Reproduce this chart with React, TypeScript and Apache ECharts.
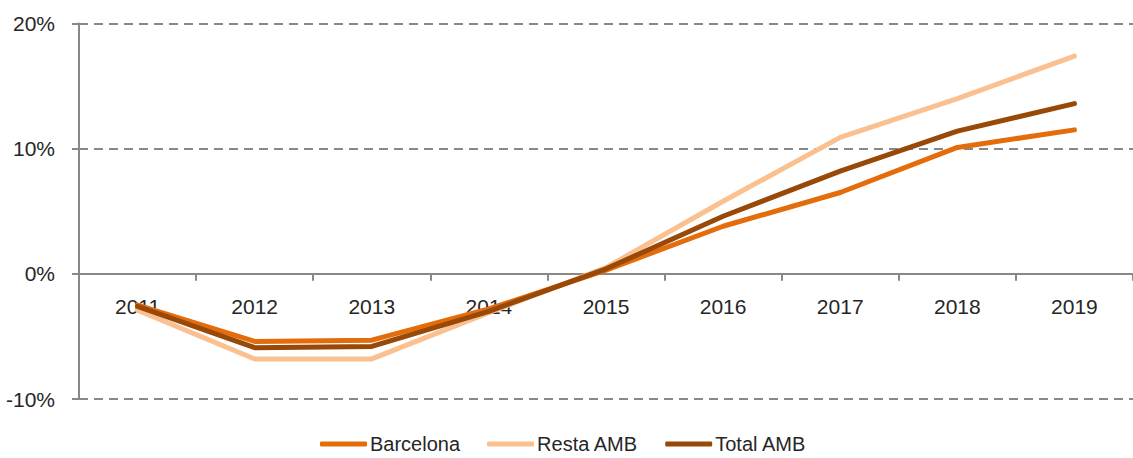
import React, { useEffect, useRef } from "react";
import * as echarts from "echarts";

const categories = ["2011", "2012", "2013", "2014", "2015", "2016", "2017", "2018", "2019"];
const barcelona = [-2.5, -5.4, -5.3, -2.8, 0.3, 3.8, 6.5, 10.1, 11.5];
const restaAMB = [-2.9, -6.8, -6.8, -3.1, 0.5, 5.8, 10.9, 14.0, 17.4];
const totalAMB = [-2.6, -5.9, -5.8, -3.0, 0.4, 4.6, 8.2, 11.4, 13.6];
const seriesNames = ["Barcelona", "Resta AMB", "Total AMB"];
const colors = ["#E46C0A", "#FAC090", "#984807"];

const FONT = "Liberation Sans";
const TEXT = "#262626";
const AXIS = "#888888";

const GRID_TOP = 23.5;
const GRID_H = 375.5;
const Y_MIN = -10;
const Y_MAX = 20;

export default function App() {
  const ref = useRef<HTMLDivElement>(null);
  useEffect(() => {
    if (!ref.current) return;
    const chart = echarts.init(ref.current, undefined, { renderer: "svg" });
    const dataSets = [barcelona, restaAMB, totalAMB];
    const zeroOffset = (GRID_H * (0 - Y_MIN)) / (Y_MAX - Y_MIN);
    chart.setOption({
      animation: false,
      textStyle: { fontFamily: FONT },
      grid: { left: 79, top: GRID_TOP, width: 1063, height: GRID_H, containLabel: false },
      legend: {
        left: 315,
        top: 429,
        icon: "roundRect",
        itemWidth: 47,
        itemHeight: 5,
        itemGap: 27,
        textStyle: { fontFamily: FONT, fontSize: 20, color: TEXT, padding: [0, 0, 0, -2] },
        data: seriesNames,
      },
      xAxis: {
        type: "category",
        data: categories,
        boundaryGap: true,
        position: "bottom",
        offset: -zeroOffset,
        axisLine: { onZero: false, lineStyle: { color: AXIS, width: 2 } },
        axisTick: { show: true, length: 7, lineStyle: { color: AXIS, width: 2 } },
        axisLabel: { color: TEXT, fontSize: 21, fontFamily: FONT, margin: 22 },
        splitLine: { show: false },
      },
      yAxis: {
        type: "value",
        min: Y_MIN,
        max: Y_MAX,
        interval: 10,
        axisLine: { show: true, lineStyle: { color: AXIS, width: 2 } },
        axisTick: { show: true, length: 7, lineStyle: { color: AXIS, width: 2 } },
        axisLabel: {
          color: TEXT,
          fontSize: 21,
          fontFamily: FONT,
          margin: 24,
          formatter: (v: number) => `${v}%`,
        },
        splitLine: {
          show: true,
          lineStyle: { color: AXIS, width: 2, type: [9, 6] },
        },
      },
      series: seriesNames.map((name, i) => ({
        name,
        type: "line",
        data: dataSets[i],
        symbol: "none",
        smooth: false,
        lineStyle: { color: colors[i], width: 5, cap: "round", join: "round" },
        itemStyle: { color: colors[i] },
        z: i === 1 ? 2 : i === 0 ? 3 : 4,
      })),
    });
    return () => chart.dispose();
  }, []);
  return (
    <div
      ref={ref}
      style={{ position: "fixed", left: 0, top: 0, width: 1133, height: 458, background: "#fff" }}
    />
  );
}
